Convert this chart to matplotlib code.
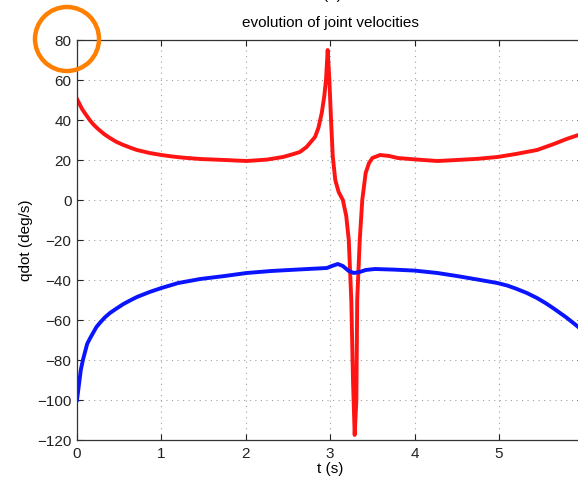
import matplotlib
matplotlib.use("Agg")
import matplotlib.pyplot as plt
from matplotlib.patches import Ellipse

plt.rcParams['font.family'] = ['Liberation Sans', 'DejaVu Sans']

# joint 1 velocity (red)
t_red = [0.00, 0.03, 0.06, 0.10, 0.15, 0.20, 0.25, 0.32, 0.39, 0.47,
         0.55, 0.63, 0.71, 0.86, 1.00, 1.12, 1.25, 1.46, 1.75, 2.01,
         2.25, 2.44, 2.55, 2.64, 2.72, 2.82, 2.86, 2.90, 2.93, 2.95,
         2.97, 2.99, 3.01, 3.03, 3.06, 3.10, 3.15, 3.19, 3.22, 3.25,
         3.27, 3.29, 3.31, 3.32, 3.35, 3.38, 3.42, 3.46, 3.50, 3.59,
         3.70, 3.80, 4.00, 4.27, 4.50, 4.75, 4.98, 5.20, 5.45, 5.65,
         5.80, 5.94, 6.00]
qd_red = [50.5, 48, 45.5, 43, 40, 37.5, 35.5, 33, 31, 29,
          27.5, 26.2, 25, 23.5, 22.5, 21.8, 21.2, 20.5, 20, 19.5,
          20.2, 21.5, 22.8, 24, 26.5, 31.5, 36, 43.5, 52, 60,
          75, 60, 40, 22, 10, 4, 0, -8, -20, -50,
          -90, -117.5, -100, -50, -20, 0, 13.5, 18.5, 21, 22.5,
          22, 21, 20.3, 19.5, 20, 20.6, 21.5, 23, 25, 28,
          30.5, 32.5, 34]

# joint 2 velocity (blue)
t_blue = [0.00, 0.015, 0.03, 0.045, 0.07, 0.095, 0.12, 0.15, 0.19, 0.23,
          0.28, 0.33, 0.39, 0.47, 0.55, 0.63, 0.71, 0.86, 1.00, 1.20,
          1.46, 1.75, 2.01, 2.30, 2.60, 2.96, 3.02, 3.09, 3.15, 3.22,
          3.28, 3.35, 3.42, 3.53, 3.75, 4.00, 4.27, 4.50, 4.75, 4.98,
          5.10, 5.20, 5.33, 5.45, 5.55, 5.65, 5.80, 5.94, 6.00]
qd_blue = [-100, -95, -90, -85, -80, -76, -72, -69.5, -66.5, -63.5,
           -61, -58.7, -56.5, -54.2, -52, -50.2, -48.5, -46, -44, -41.5,
           -39.5, -38, -36.5, -35.5, -34.8, -34, -33, -32, -33, -35.5,
           -36.5, -36, -35, -34.5, -34.8, -35.3, -36.5, -38, -39.8, -41.5,
           -42.8, -44.3, -46.5, -49, -51.5, -54.3, -58.8, -63.5, -66]

x_ticks = [0, 1, 2, 3, 4, 5]
y_ticks = [-120, -100, -80, -60, -40, -20, 0, 20, 40, 60, 80]

fig = plt.figure(figsize=(5.78, 4.8), dpi=100)
# axes run past the right edge of the picture, like the cropped original
ax = fig.add_axes([77 / 578, 40 / 480, 506.4 / 578, 400 / 480])

ax.plot(t_red, qd_red, color='#ff1414', linewidth=2.8, solid_joinstyle='round')
ax.plot(t_blue, qd_blue, color='#0a14ff', linewidth=2.8, solid_joinstyle='round')

ax.set_xlim(0, 6)
ax.set_ylim(-120, 80)
ax.set_xticks(x_ticks)
ax.set_yticks(y_ticks)
ax.grid(True, color='#a0a0a0', linestyle=(0, (1, 4)), linewidth=0.8)
ax.tick_params(direction='in', length=4, width=0.8, labelsize=11, pad=4,
               top=True, right=True, colors='#222222')
ax.tick_params(axis='x', pad=5)
for s in ax.spines.values():
    s.set_color('#333333')
    s.set_linewidth(0.9)

ax.set_title("evolution of joint velocities", fontsize=11, pad=9)
ax.set_xlabel("t (s)", fontsize=11)
ax.set_ylabel("qdot (deg/s)", fontsize=11)
ax.xaxis.set_label_coords(0.5, -0.056)
ax.yaxis.set_label_coords(-0.087, 0.5)

# partly cut-off heading above the title
fig.text(332 / 578, 1 + 1 / 480, "(b)", ha='center', va='baseline', fontsize=11)

# orange highlight ring around the top y tick label
fig.add_artist(Ellipse((67 / 578, 1 - 39 / 480), 64 / 578, 64 / 480,
                       transform=fig.transFigure, fill=False,
                       edgecolor='#ff8000', linewidth=3.2, clip_on=False))

fig.savefig("out.png", dpi=100)
